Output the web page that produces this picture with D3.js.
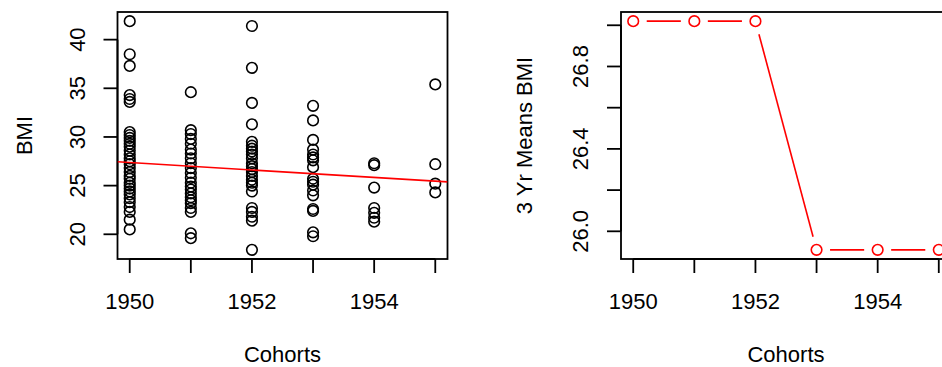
<!DOCTYPE html>
<html>
<head>
<meta charset="utf-8">
<script src="https://cdn.jsdelivr.net/npm/d3@7"></script>
<style>
  html, body { margin: 0; padding: 0; background: #fff; }
  svg { display: block; }
  text { font-family: "Liberation Sans", Arial, Helvetica, sans-serif; }
</style>
</head>
<body>
<svg id="chart" width="942" height="367"></svg>
<script>
// BMI observations per birth cohort
const bmi1950 = [41.9, 38.5, 37.3, 34.3, 33.9, 33.6, 30.5, 30.2, 29.9, 29.6, 29.3, 29.0, 28.6, 28.2,
  27.8, 27.5, 27.2, 26.8, 26.4, 26.0, 25.7, 25.3, 25.0, 24.7, 24.4, 24.1, 23.7, 23.3, 22.8, 22.3, 21.5, 20.5];
const bmi1951 = [34.6, 30.7, 30.3, 29.8, 29.3, 28.7, 28.3, 27.8, 27.3, 26.8, 26.3, 25.8, 25.3, 24.9,
  24.6, 24.2, 23.8, 23.5, 23.2, 22.7, 22.3, 20.1, 19.6];
const bmi1952 = [41.4, 37.1, 33.5, 31.3, 29.5, 29.1, 28.8, 28.5, 28.2, 27.8, 27.3, 27.0, 26.7, 26.4,
  26.0, 25.6, 25.3, 25.0, 24.4, 22.7, 22.3, 21.8, 21.4, 18.4];
const bmi1953 = [33.2, 31.7, 29.7, 28.7, 28.2, 27.9, 27.6, 26.9, 25.7, 25.4, 25.1, 24.5, 24.0,
  22.6, 22.4, 20.2, 19.8];
const bmi1954 = [27.3, 27.1, 24.8, 22.7, 22.2, 21.7, 21.3];
const bmi1955 = [35.4, 27.2, 25.2, 24.3];

const cohorts = [1950, 1951, 1952, 1953, 1954, 1955];
const bmiByCohort = [bmi1950, bmi1951, bmi1952, bmi1953, bmi1954, bmi1955];

// fitted linear trend of BMI on cohort (value at 1950, change per year)
const trendAt1950 = 27.37;
const trendSlope = -0.381;

// three-year mean BMI assigned to each cohort
const meanBmi3yr = [27.02, 27.02, 27.02, 25.91, 25.91, 25.91];

// axis ticks and their labels (blank where the label is left out)
const xTicks = [1950, 1951, 1952, 1953, 1954, 1955];
const xTickLabels = ["1950", "", "1952", "", "1954", ""];
const yTicksLeft = [20, 25, 30, 35, 40];
const yTickLabelsLeft = ["20", "25", "30", "35", "40"];
const yTicksRight = [26.0, 26.2, 26.4, 26.6, 26.8, 27.0];
const yTickLabelsRight = ["26.0", "", "26.4", "", "26.8", ""];

const svg = d3.select("#chart");
const FONT = 22;
const plotTop = 12, plotBottom = 259;
const panels = [
  { left: 117.5, right: 447.5, titleX: 32, tickLabelX: 85 },
  { left: 621, right: 951, titleX: 531.5, tickLabelX: 588 }
];

// R-style axis range: data extent padded by 4% on each side
function padded(ext) {
  const d = (ext[1] - ext[0]) * 0.04;
  return [ext[0] - d, ext[1] + d];
}

const points = [];
cohorts.forEach((c, i) => bmiByCohort[i].forEach(v => points.push({ x: c, y: v })));

function drawFrame(p, y, yTicks, yLabels, yTitle) {
  const g = svg.append("g");
  const x = p.x;
  // box
  g.append("rect")
    .attr("x", p.left).attr("y", plotTop)
    .attr("width", p.right - p.left).attr("height", plotBottom - plotTop)
    .attr("fill", "none").attr("stroke", "#000").attr("stroke-width", 1.8);

  // x axis
  g.append("line")
    .attr("x1", x(xTicks[0])).attr("x2", x(xTicks[xTicks.length - 1]))
    .attr("y1", plotBottom).attr("y2", plotBottom)
    .attr("stroke", "#000").attr("stroke-width", 1.8);
  xTicks.forEach((t, i) => {
    g.append("line")
      .attr("x1", x(t)).attr("x2", x(t))
      .attr("y1", plotBottom).attr("y2", plotBottom + 14)
      .attr("stroke", "#000").attr("stroke-width", 1.8);
    if (xTickLabels[i]) {
      g.append("text")
        .attr("x", x(t)).attr("y", 309)
        .attr("text-anchor", "middle").attr("font-size", FONT)
        .text(xTickLabels[i]);
    }
  });
  g.append("text")
    .attr("x", (p.left + p.right) / 2).attr("y", 362)
    .attr("text-anchor", "middle").attr("font-size", FONT)
    .text("Cohorts");

  // y axis
  g.append("line")
    .attr("x1", p.left).attr("x2", p.left)
    .attr("y1", y(yTicks[0])).attr("y2", y(yTicks[yTicks.length - 1]))
    .attr("stroke", "#000").attr("stroke-width", 1.8);
  yTicks.forEach((t, i) => {
    g.append("line")
      .attr("x1", p.left - 14).attr("x2", p.left)
      .attr("y1", y(t)).attr("y2", y(t))
      .attr("stroke", "#000").attr("stroke-width", 1.8);
    if (yLabels[i]) {
      g.append("text")
        .attr("transform", `translate(${p.tickLabelX},${y(t)}) rotate(-90)`)
        .attr("text-anchor", "middle").attr("font-size", FONT)
        .text(yLabels[i]);
    }
  });
  g.append("text")
    .attr("transform", `translate(${p.titleX},${(plotTop + plotBottom) / 2}) rotate(-90)`)
    .attr("text-anchor", "middle").attr("font-size", FONT)
    .text(yTitle);
  return g;
}

// ---------- left panel: BMI by cohort with linear trend ----------
{
  const p = panels[0];
  p.x = d3.scaleLinear().domain(padded(d3.extent(cohorts))).range([p.left, p.right]);
  const y = d3.scaleLinear().domain(padded(d3.extent(points, d => d.y))).range([plotBottom, plotTop]);
  const g = drawFrame(p, y, yTicksLeft, yTickLabelsLeft, "BMI");

  g.append("clipPath").attr("id", "clipL").append("rect")
    .attr("x", p.left).attr("y", plotTop)
    .attr("width", p.right - p.left).attr("height", plotBottom - plotTop);

  g.selectAll("circle.obs").data(points).join("circle")
    .attr("class", "obs")
    .attr("cx", d => p.x(d.x)).attr("cy", d => y(d.y)).attr("r", 5.3)
    .attr("fill", "none").attr("stroke", "#000").attr("stroke-width", 1.6);

  const trend = yr => trendAt1950 + trendSlope * (yr - 1950);
  const [d0, d1] = p.x.domain();
  g.append("line")
    .attr("clip-path", "url(#clipL)")
    .attr("x1", p.x(d0)).attr("y1", y(trend(d0)))
    .attr("x2", p.x(d1)).attr("y2", y(trend(d1)))
    .attr("stroke", "#ff0000").attr("stroke-width", 1.6);
}

// ---------- right panel: 3-year mean BMI, points joined with gaps ----------
{
  const p = panels[1];
  p.x = d3.scaleLinear().domain(padded(d3.extent(cohorts))).range([p.left, p.right]);
  const y = d3.scaleLinear().domain(padded(d3.extent(meanBmi3yr))).range([plotBottom, plotTop]);
  const g = drawFrame(p, y, yTicksRight, yTickLabelsRight, "3 Yr Means BMI");

  const pts = cohorts.map((c, i) => [p.x(c), y(meanBmi3yr[i])]);
  const gap = 13.5;
  for (let i = 0; i < pts.length - 1; i++) {
    const [ax, ay] = pts[i], [bx, by] = pts[i + 1];
    const len = Math.hypot(bx - ax, by - ay);
    if (len <= 2 * gap) continue;
    const ux = (bx - ax) / len, uy = (by - ay) / len;
    g.append("line")
      .attr("x1", ax + ux * gap).attr("y1", ay + uy * gap)
      .attr("x2", bx - ux * gap).attr("y2", by - uy * gap)
      .attr("stroke", "#ff0000").attr("stroke-width", 1.6);
  }
  g.selectAll("circle.mean").data(pts).join("circle")
    .attr("class", "mean")
    .attr("cx", d => d[0]).attr("cy", d => d[1]).attr("r", 5.3)
    .attr("fill", "none").attr("stroke", "#ff0000").attr("stroke-width", 1.6);
}
</script>
</body>
</html>
